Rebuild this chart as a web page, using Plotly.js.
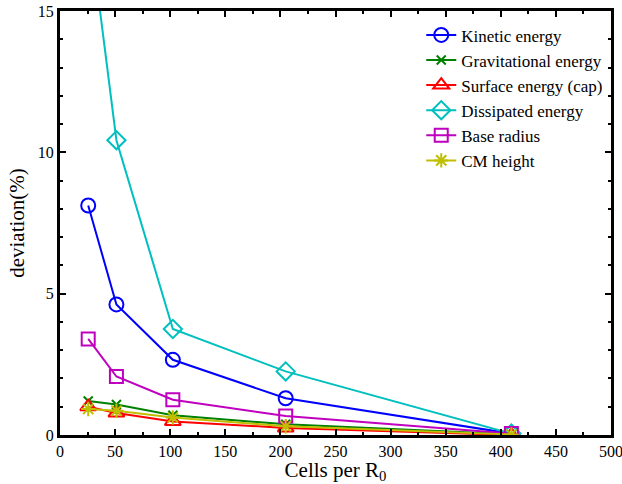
<!DOCTYPE html>
<html>
<head>
<meta charset="utf-8">
<script src="https://cdn.plot.ly/plotly-3.0.1.min.js"></script>
<style>
html,body{margin:0;padding:0;background:#fff;}#chart{width:622px;height:484px;}
</style>
</head>
<body>
<div id="chart"></div>
<script>
const cells = [25.6, 51.2, 102.4, 204.8, 409.6];
const seriesNames = ["Kinetic energy", "Gravitational energy", "Surface energy (cap)", "Dissipated energy", "Base radius", "CM height"];
const kinetic = [8.12, 4.62, 2.66, 1.3, 0.05];
const gravitational = [1.2, 1.08, 0.7, 0.38, 0.02];
const surface = [1.0, 0.78, 0.48, 0.25, 0.0];
const dissipated = [18.3, 10.43, 3.75, 2.25, 0.05];
const baseRadius = [3.4, 2.07, 1.25, 0.67, 0.05];
const cmHeight = [0.92, 0.86, 0.62, 0.31, 0.02];

const allValues = [kinetic, gravitational, surface, dissipated, baseRadius, cmHeight];
const colors = ["#0000ff", "#008000", "#ff0000", "#00bfbf", "#bf00bf", "#bfbf00"];
const symbols = ["circle-open", "x-thin-open", "triangle-up-open", "diamond-open", "square-open", "asterisk-open"];
const sizes = [14, 9, 14, 14, 13, 12];

const traces = allValues.map((vals, i) => ({
  x: cells, y: vals, type: "scatter", mode: "lines+markers",
  name: seriesNames[i],
  line: {color: colors[i], width: 2},
  marker: {symbol: symbols[i], size: sizes[i], color: colors[i], line: {color: colors[i], width: 2}},
  cliponaxis: true
}));

const font = "Liberation Serif, Times New Roman, serif";
const axisCommon = {
  showline: true, linecolor: "#000", linewidth: 3, mirror: "allticks",
  ticks: "inside", ticklen: 6, tickwidth: 2, tickcolor: "#000",
  showgrid: false, zeroline: false, automargin: true, ticklabeloverflow: "allow",
  tickfont: {family: font, size: 16, color: "#000"}
};

const layout = {
  width: 622, height: 484,
  margin: {l: 60, r: 11, t: 11, b: 49, autoexpand: false},
  paper_bgcolor: "#fff", plot_bgcolor: "#fff",
  font: {family: font, color: "#000"},
  showlegend: true,
  legend: {x: 0.995, y: 0.985, xanchor: "right", yanchor: "top", bgcolor: "rgba(0,0,0,0)",
           font: {family: font, size: 17, color: "#000"}, tracegroupgap: 0, itemwidth: 30},
  xaxis: Object.assign({}, axisCommon, {
    range: [0, 500], dtick: 50, tick0: 0,
    minor: {dtick: 25, ticks: "inside", ticklen: 3, tickwidth: 2, tickcolor: "#000"},
    title: {text: "Cells per R<sub>0</sub>", font: {family: font, size: 21, color: "#000"}, standoff: 8}
  }),
  yaxis: Object.assign({}, axisCommon, {
    range: [0, 15], dtick: 5, tick0: 0,
    minor: {dtick: 1, ticks: "inside", ticklen: 3, tickwidth: 2, tickcolor: "#000"},
    title: {text: "deviation(%)", font: {family: font, size: 21, color: "#000"}, standoff: 8}
  })
};

Plotly.newPlot("chart", traces, layout, {displayModeBar: false, staticPlot: true});
</script>
</body>
</html>
